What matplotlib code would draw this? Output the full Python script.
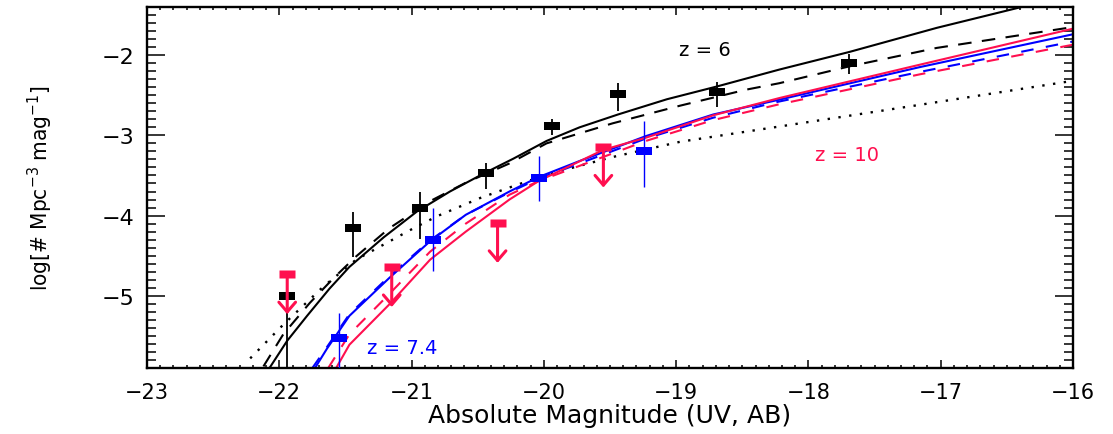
import matplotlib
matplotlib.use('Agg')
import matplotlib.pyplot as plt
from matplotlib.ticker import MultipleLocator
from matplotlib import font_manager


# ---- data points (z=6, black) --------------------------------------------
m_z6    = [-21.94, -21.44, -20.94, -20.44, -19.94, -19.44, -18.69, -17.69]
phi_z6  = [-5.00, -4.15, -3.91, -3.475, -2.88, -2.49, -2.46, -2.10]
hi_z6   = [-5.00, -3.96, -3.71, -3.34, -2.79, -2.35, -2.33, -1.99]
lo_z6   = [-6.50, -4.52, -4.29, -3.67, -3.00, -2.70, -2.65, -2.24]

# ---- data points (z=7.4, blue) -------------------------------------------
m_z74   = [-21.55, -20.84, -20.04, -19.24]
phi_z74 = [-5.52, -4.30, -3.53, -3.19]
hi_z74  = [-5.21, -3.91, -3.26, -2.82]
lo_z74  = [-6.50, -4.69, -3.82, -3.65]

# ---- upper limits (z=10, red) --------------------------------------------
m_z10   = [-21.94, -21.15, -20.35, -19.55]
phi_z10 = [-4.73, -4.64, -4.09, -3.15]
arrow_len = 0.5

# ---- model curves --------------------------------------------------------
m_k_solid = [-22.07, -21.94, -21.79, -21.62, -21.47, -21.21, -20.96, -20.71, -20.46, -20.23,
             -19.98, -19.73, -19.44, -19.07, -18.69, -18.22, -17.69, -17.03, -16.34]
l_k_solid = [-5.89, -5.56, -5.25, -4.91, -4.64, -4.27, -3.95, -3.70, -3.48, -3.29,
             -3.07, -2.90, -2.74, -2.55, -2.39, -2.18, -1.96, -1.66, -1.38]

m_k_dash = [-22.12, -21.97, -21.77, -21.59, -21.42, -21.17, -20.86, -20.59, -20.26, -19.98,
            -19.48, -18.97, -18.47, -18.22, -17.69, -17.03, -16.00]
l_k_dash = [-5.88, -5.48, -5.09, -4.78, -4.51, -4.16, -3.82, -3.59, -3.35, -3.10,
            -2.85, -2.63, -2.43, -2.35, -2.14, -1.91, -1.65]

m_k_dot = [-22.22, -21.97, -21.67, -21.42, -21.01, -20.81, -20.48, -20.26, -19.98, -19.48,
           -18.97, -18.22, -17.16, -16.00]
l_k_dot = [-5.78, -5.36, -4.89, -4.55, -4.18, -4.01, -3.78, -3.65, -3.49, -3.27,
           -3.08, -2.89, -2.62, -2.32]

m_b_solid = [-21.73, -21.64, -21.47, -21.17, -20.86, -20.59, -20.26, -20.04, -19.73, -19.23,
             -18.72, -18.22, -17.16, -16.00]
l_b_solid = [-5.90, -5.66, -5.25, -4.78, -4.32, -3.99, -3.70, -3.52, -3.32, -3.01,
             -2.74, -2.555, -2.15, -1.74]

m_b_dash = [-21.75, -21.64, -21.47, -21.17, -20.86, -20.59, -20.26, -20.04, -19.73, -19.23,
            -18.72, -18.24, -17.16, -16.00]
l_b_dash = [-5.90, -5.64, -5.23, -4.76, -4.31, -3.99, -3.71, -3.54, -3.35, -3.04,
            -2.78, -2.585, -2.21, -1.83]

m_r_solid = [-21.57, -21.47, -21.17, -20.86, -20.59, -20.26, -20.04, -19.55, -19.23, -18.72,
             -18.22, -17.16, -16.00]
l_r_solid = [-5.90, -5.61, -5.11, -4.55, -4.20, -3.80, -3.57, -3.18, -3.03, -2.75,
             -2.535, -2.12, -1.67]

m_r_dash = [-21.63, -21.47, -21.17, -20.86, -20.59, -20.26, -20.04, -19.73, -19.23, -18.72,
            -18.24, -17.16, -16.00]
l_r_dash = [-5.90, -5.48, -4.98, -4.45, -4.10, -3.74, -3.57, -3.38, -3.07, -2.81,
            -2.62, -2.24, -1.87]


RED = '#ff0f4f'
BLUE = '#0000ff'
rect = [(-1, -0.52), (1, -0.52), (1, 0.52), (-1, 0.52), (-1, -0.52)]

# narrow font for the y label (condensed face if one is installed)
narrow_files = [f for f in font_manager.fontManager.ttflist
                if f.style == 'normal' and f.weight in (400, 'normal', 'regular')
                and (f.name == 'Liberation Sans Narrow'
                     or (f.name == 'DejaVu Sans' and 'condensed' in str(f.stretch).lower()))]
if narrow_files:
    ylab_font = font_manager.FontProperties(fname=narrow_files[0].fname, size=21)
    math_family = narrow_files[0].name
else:
    ylab_font = font_manager.FontProperties(family='Liberation Sans', size=19)
    math_family = 'Liberation Sans'
plt.rcParams['mathtext.fontset'] = 'custom'
plt.rcParams['mathtext.rm'] = math_family
plt.rcParams['mathtext.it'] = math_family


fig = plt.figure(figsize=(11.13, 4.35), dpi=100)
ax = fig.add_axes([147/1113, 1 - 369/435, 926/1113, 361/435])

# model curves
ax.plot(m_k_solid, l_k_solid, color='k', lw=1.5)
ax.plot(m_k_dash, l_k_dash, color='k', lw=1.5, dashes=(6.5, 5))
ax.plot(m_k_dot, l_k_dot, color='k', lw=1.7, dashes=(1, 3.6))
ax.plot(m_b_dash, l_b_dash, color=BLUE, lw=1.5, dashes=(6, 6))
ax.plot(m_r_dash, l_r_dash, color=RED, lw=1.5, dashes=(6, 6))
ax.plot(m_b_solid, l_b_solid, color=BLUE, lw=1.5)
ax.plot(m_r_solid, l_r_solid, color=RED, lw=1.5)

# z=6 points
err6 = [[p - l for p, l in zip(phi_z6, lo_z6)], [h - p for p, h in zip(phi_z6, hi_z6)]]
ax.errorbar(m_z6, phi_z6, yerr=err6, ls='none', marker=rect, ms=11.5, color='k',
            mew=0, elinewidth=1.3, capsize=3.5, capthick=1.3, zorder=4)

# z=7.4 points
err74 = [[p - l for p, l in zip(phi_z74, lo_z74)], [h - p for p, h in zip(phi_z74, hi_z74)]]
ax.errorbar(m_z74, phi_z74, yerr=err74, ls='none', marker=rect, ms=11.5, color=BLUE,
            mew=0, elinewidth=1.0, capsize=3.5, capthick=1.0, zorder=4)

# z=10 upper limits
for x, y in zip(m_z10, phi_z10):
    ax.annotate('', xy=(x, y - arrow_len), xytext=(x, y),
                arrowprops=dict(arrowstyle='->,head_length=0.35,head_width=0.3',
                                color=RED, lw=2.2, shrinkA=0, shrinkB=0,
                                mutation_scale=20), zorder=5)
ax.plot(m_z10, phi_z10, ls='none', marker=rect, ms=11.5, mfc=RED, mec='none', zorder=6)

# labels
ax.text(-18.78, -1.93, 'z = 6', color='k', fontsize=14, ha='center', va='center')
ax.text(-17.71, -3.235, 'z = 10', color=RED, fontsize=14, ha='center', va='center')
ax.text(-21.07, -5.645, 'z = 7.4', color=BLUE, fontsize=14, ha='center', va='center')

ax.set_xlim(-23, -16)
ax.set_ylim(-5.9, -1.4)
ax.set_xticks(range(-23, -15))
ax.set_yticks([-5, -4, -3, -2])
ax.xaxis.set_minor_locator(MultipleLocator(0.1))
ax.yaxis.set_minor_locator(MultipleLocator(0.1))

ax.tick_params(which='both', direction='in', top=True, right=True, width=1.1)
ax.tick_params(axis='x', which='major', length=5.5, labelsize=15, pad=10)
ax.tick_params(axis='x', which='minor', length=2.5)
ax.tick_params(axis='y', which='major', length=13, labelsize=16, pad=9)
ax.tick_params(axis='y', which='minor', length=6.5)
for s in ax.spines.values():
    s.set_linewidth(1.7)

ax.set_xlabel('Absolute Magnitude (UV, AB)', fontsize=18, labelpad=1)
ylab = ax.set_ylabel(r'log[# Mpc$^{\mathregular{-3}}$ mag$^{\mathregular{-1}}$]',
                     fontproperties=ylab_font)
ax.yaxis.set_label_coords(-0.099, 0.5)

# the label in the reference is about 205 px long: size it to that
fig.canvas.draw()
h = ylab.get_window_extent().height
ylab.set_fontsize(ylab.get_fontsize() * 205.0 / h)

fig.savefig('out.png', dpi=100)
